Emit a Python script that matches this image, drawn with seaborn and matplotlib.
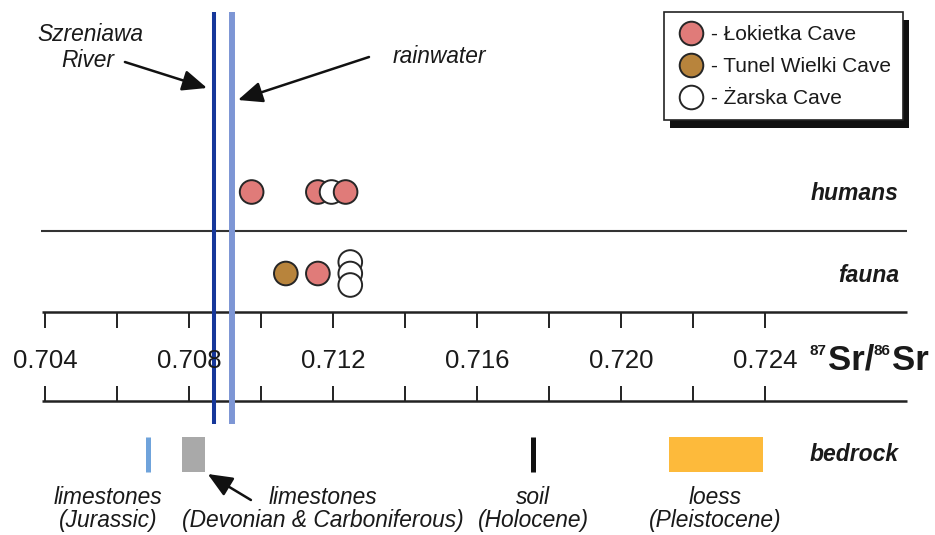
import numpy as np
import pandas as pd
import matplotlib
matplotlib.use("Agg")
import matplotlib.pyplot as plt
from matplotlib.lines import Line2D
from matplotlib.patches import Rectangle
import seaborn as sns

# 87Sr/86Sr values
human_cave = ["Łokietka", "Łokietka", "Żarska", "Łokietka"]
human_sr   = [0.70973, 0.71157, 0.71195, 0.71234]
fauna_cave = ["Tunel Wielki", "Łokietka", "Żarska", "Żarska", "Żarska"]
fauna_sr   = [0.71068, 0.71157, 0.71247, 0.71247, 0.71247]

river_sr     = 0.70869
rainwater_sr = 0.70919

# bedrock ranges (lo == hi -> single value)
bedrock_name = ["limestones\n(Jurassic)", "limestones\n(Devonian & Carboniferous)",
                "soil\n(Holocene)", "loess\n(Pleistocene)"]
bedrock_lo = [0.70685, 0.70779, 0.71755, 0.72132]
bedrock_hi = [0.70685, 0.70843, 0.71755, 0.72393]

axis_ticks  = [0.704, 0.706, 0.708, 0.710, 0.712, 0.714, 0.716, 0.718, 0.720, 0.722, 0.724]
tick_labels = ["0.704", "0.708", "0.712", "0.716", "0.720", "0.724"]

CAVES = ["Łokietka", "Tunel Wielki", "Żarska"]
CAVE_COLORS = {"Łokietka": "#E07B79", "Tunel Wielki": "#B8843C", "Żarska": "#FFFFFF"}
BEDROCK_COLORS = ["#6FA3DB", "#A9A9A9", "#111111", "#FDBA3B"]
EDGE = "#262626"
TEXT = "#1a1a1a"
RIVER_COLOR = "#16379A"
RAIN_COLOR = "#7D96D5"

# layout (y in pixel rows of the 935x535 canvas)
ROW_Y = {"humans": 192, "fauna": 273.5}
STACK_STEP = 11.5
SEP_Y, AXIS_TOP, AXIS_BOT = 230.5, 311.7, 401
BED_TOP, BED_BOT = 437, 472
X0 = 0.704 - 45.35 / 36000
X1 = X0 + 935 / 36000
LINE_L, LINE_R = 0.70389, 0.72793
RIGHT_X = 0.72771

sns.set_style("white")
plt.rcParams["font.family"] = ["Liberation Sans", "DejaVu Sans"]

fig = plt.figure(figsize=(9.35, 5.35), dpi=100)
ax = fig.add_axes([0, 0, 1, 1])
ax.set_xlim(X0, X1)
ax.set_ylim(535, 0)
ax.axis("off")

# ---- points ----
points = pd.DataFrame({
    "group": ["humans"] * len(human_sr) + ["fauna"] * len(fauna_sr),
    "cave": human_cave + fauna_cave,
    "sr": human_sr + fauna_sr,
})
keys = ["group", "cave", "sr"]
points["k"] = points.groupby(keys).cumcount()
points["n"] = points.groupby(keys)["sr"].transform("size")
points["y"] = points["group"].map(ROW_Y) + (points["k"] - (points["n"] - 1) / 2) * STACK_STEP

sns.scatterplot(data=points, x="sr", y="y", hue="cave", palette=CAVE_COLORS,
                s=290, edgecolor=EDGE, linewidth=1.4, legend=False, ax=ax, zorder=4)

# ---- reference lines ----
ax.vlines(river_sr, 12, 424, color=RIVER_COLOR, lw=2.9, zorder=3)
ax.vlines(rainwater_sr, 12, 424, color=RAIN_COLOR, lw=4.3, zorder=3)

# ---- separators and the number line ----
ax.hlines(SEP_Y, LINE_L, LINE_R, color="#333333", lw=1.5, zorder=2)
ax.hlines([AXIS_TOP, AXIS_BOT], LINE_L + 0.00003, LINE_R, color="#222222", lw=1.8, zorder=2)
ax.vlines(axis_ticks, AXIS_TOP, AXIS_TOP + 16, color="#222222", lw=1.4, zorder=2)
ax.vlines(axis_ticks, AXIS_BOT - 15, AXIS_BOT, color="#222222", lw=1.4, zorder=2)
for t in tick_labels:
    ax.text(float(t), 368.5, t, ha="center", va="baseline", fontsize=18.5, color=TEXT)

# isotope label
t87 = ax.text(0.72524, 355, "87", ha="left", va="baseline", fontsize=11,
              fontweight="bold", color=TEXT)
tsr = ax.annotate("Sr/", xy=(1, 0), xycoords=t87, xytext=(0.5, -13.5),
                  textcoords="offset points", ha="left", va="bottom",
                  fontsize=25, fontweight="bold", color=TEXT)
t86 = ax.annotate("86", xy=(1, 0), xycoords=tsr, xytext=(0, 13.5),
                  textcoords="offset points", ha="left", va="bottom",
                  fontsize=11, fontweight="bold", color=TEXT)
ax.annotate("Sr", xy=(1, 0), xycoords=t86, xytext=(0.5, -13.5),
            textcoords="offset points", ha="left", va="bottom",
            fontsize=25, fontweight="bold", color=TEXT)

# ---- bedrock ----
label_x = [0.70574, 0.71171, 0.71755, 0.72260]
for lo, hi, c, name, lx in zip(bedrock_lo, bedrock_hi, BEDROCK_COLORS, bedrock_name, label_x):
    if hi > lo:
        ax.barh((BED_TOP + BED_BOT) / 2, hi - lo, left=lo, height=BED_BOT - BED_TOP,
                color=c, edgecolor="none", zorder=2)
    else:
        ax.vlines(lo, BED_TOP, BED_BOT, color=c, lw=3.6, zorder=2)
    ax.text(lx, 509, name, ha="center", va="center", fontsize=16.4, style="italic",
            linespacing=1.05, color=TEXT)

# ---- row labels ----
for name, yb in [("humans", 200.5), ("fauna", 281.5), ("bedrock", 461)]:
    ax.text(RIGHT_X, yb, name, ha="right", va="baseline", fontsize=16.5,
            fontweight="bold", style="italic", color=TEXT)

# ---- annotations ----
arrow = dict(arrowstyle="-|>,head_length=0.75,head_width=0.32", lw=1.8,
             color="#111111", mutation_scale=20, shrinkA=0, shrinkB=0)
ax.text(0.70524, 40.7, "Szreniawa", ha="center", va="baseline", fontsize=16.4,
        style="italic", color=TEXT)
ax.text(0.70517, 66.7, "River", ha="center", va="baseline", fontsize=16.4,
        style="italic", color=TEXT)
ax.annotate("", xy=(river_sr - 0.0002, 88), xytext=(0.70621, 62), arrowprops=arrow, zorder=5)
ax.text(0.71494, 63.3, "rainwater", ha="center", va="baseline", fontsize=16.4,
        style="italic", color=TEXT)
ax.annotate("", xy=(rainwater_sr + 0.00016, 100), xytext=(0.71299, 57), arrowprops=arrow, zorder=5)
ax.annotate("", xy=(bedrock_hi[1] + 0.00008, BED_BOT + 2), xytext=(0.70971, 500),
            arrowprops=arrow, zorder=5)

# ---- legend box with drop shadow ----
handles = [Line2D([], [], marker="o", ls="", markersize=17,
                  markerfacecolor=CAVE_COLORS[c], markeredgecolor=EDGE,
                  markeredgewidth=1.4) for c in CAVES]
labels = [f"- {c} Cave" for c in CAVES]
ax.legend(handles, labels, loc="upper left", bbox_to_anchor=(678.7 / 935, 1 - 25 / 535),
          frameon=False, borderpad=0, borderaxespad=0, handlelength=1.2,
          handletextpad=0.35, labelspacing=0.62, fontsize=15, labelcolor=TEXT)
box = dict(transform=fig.transFigure)
ax.add_patch(Rectangle(((664 + 6) / 935, 1 - (120 + 8) / 535), 239 / 935, 108.3 / 535,
                       facecolor="#111111", edgecolor="none", zorder=4.5, **box))
ax.add_patch(Rectangle((664 / 935, 1 - 120 / 535), 239 / 935, 108.3 / 535,
                       facecolor="white", edgecolor="#222222", lw=1.2, zorder=4.6, **box))
ax.get_legend().set_zorder(5)

fig.savefig("out.png", dpi=100, facecolor="white")
